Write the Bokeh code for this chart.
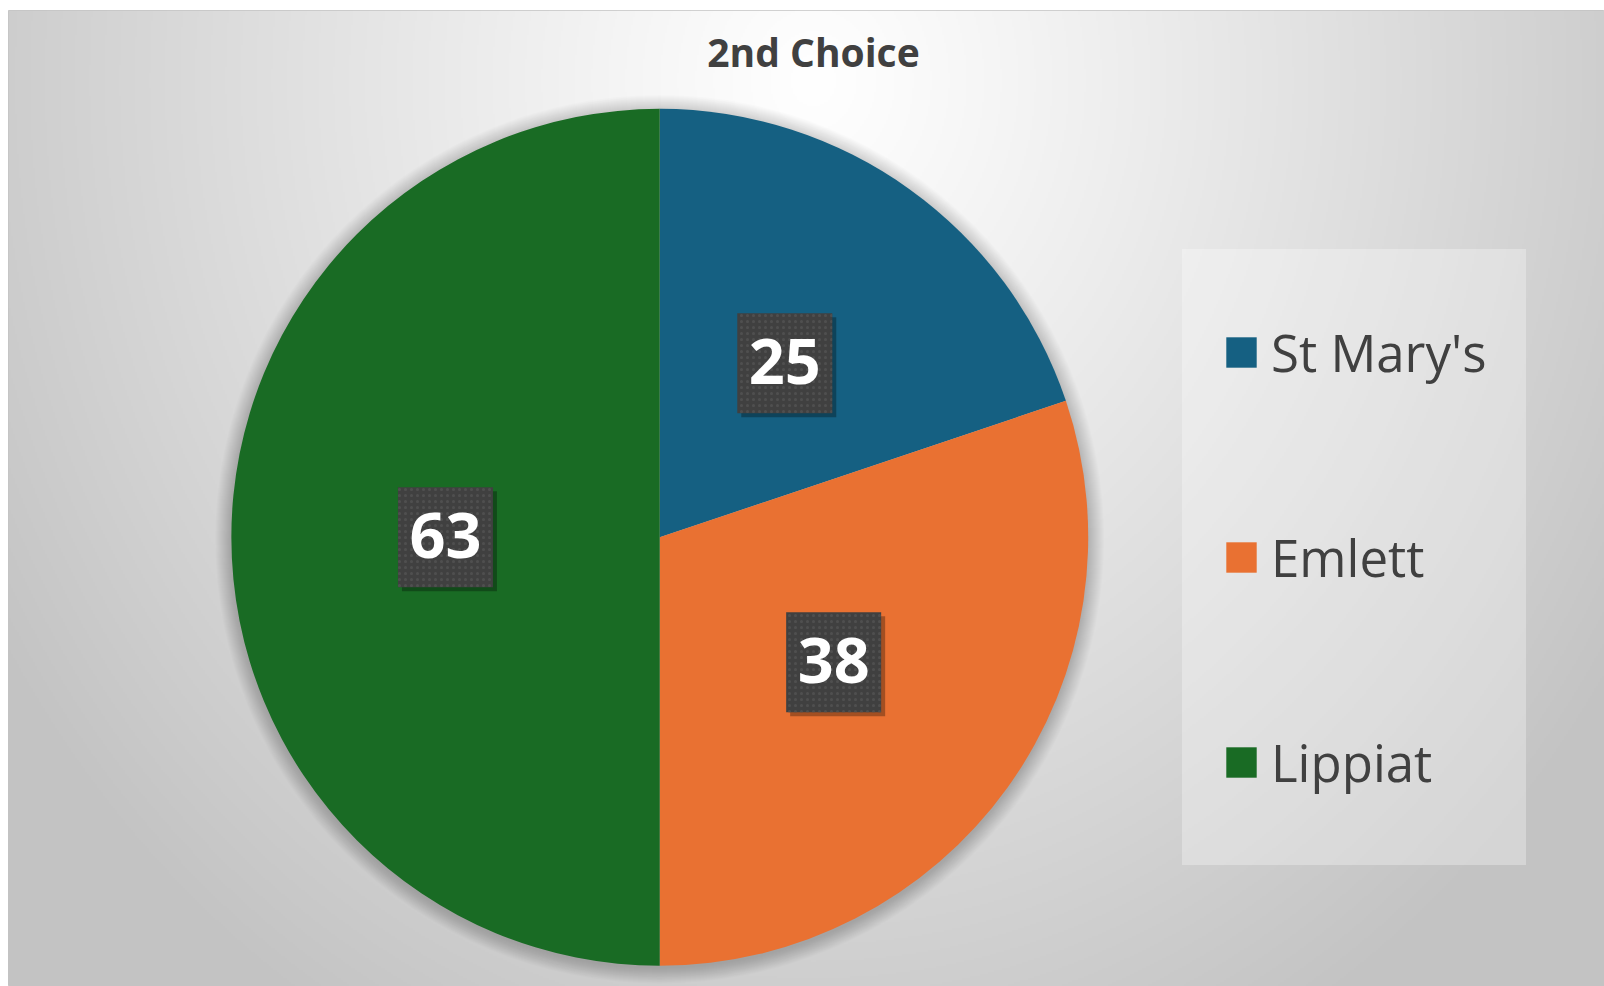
import numpy as np
from bokeh.plotting import figure
from bokeh.models import Range1d, ColumnDataSource, Legend, LegendItem
from bokeh.core.properties import value
from bokeh.transform import dodge
from bokeh.embed import file_html
from bokeh.resources import INLINE

# ---- data ----
title = "2nd Choice"
categories = ["St Mary's", "Emlett", "Lippiat"]
counts = [25, 38, 63]
colors = ["#156082", "#E97132", "#196B24"]

# ---- layout (frame pixel coordinates) ----
W, H = 1596, 976
cx, cy, R = 651.2, H - 526.8, 428.5

total = float(sum(counts))
frac = np.cumsum([0] + counts) / total * 2 * np.pi   # clockwise from 12 o'clock
start = np.pi / 2 - frac[:-1]
end = np.pi / 2 - frac[1:]
mid = (frac[:-1] + frac[1:]) / 2
lx = cx + 0.5 * R * np.sin(mid)
ly = cy + 0.5 * R * np.cos(mid)

src = ColumnDataSource(dict(cat=categories, val=counts, color=colors,
                            start=start, end=end, lx=lx, ly=ly,
                            txt=[str(v) for v in counts]))

p = figure(width=W + 8, height=H + 10, x_range=Range1d(0, W), y_range=Range1d(0, H),
           output_backend="svg", toolbar_location=None,
           min_border_left=8, min_border_top=10, min_border_right=0,
           min_border_bottom=0, x_axis_location=None, y_axis_location=None)
p.grid.visible = False
p.outline_line_color = "#c4c4c4"
p.background_fill_color = "#d8d8d8"
p.border_fill_color = "white"

# background radial gradient
hs, ws = H // 2, W // 2
yy, xx = np.mgrid[0:hs, 0:ws]
X = (xx + 0.5) * 2
Ytop = H - (yy + 0.5) * 2
t = np.sqrt(((X - 805) / 960.0) ** 2 + ((Ytop - 70) / 1100.0) ** 2)
g = (255 - 60 * np.clip(t, 0, 1) ** 1.1).astype(np.uint8)
img = np.empty((hs, ws), dtype=np.uint32)
view = img.view(dtype=np.uint8).reshape((hs, ws, 4))
view[:, :, 0] = g
view[:, :, 1] = g
view[:, :, 2] = g
view[:, :, 3] = 255
p.image_rgba(image=[img], x=0, y=0, dw=W, dh=H)

# soft shadow around pie
for k in range(1, 17):
    p.circle(x=cx, y=cy - 2, radius=R + k, fill_color="black", fill_alpha=0.012,
             line_color=None)

wedges = p.wedge(x=cx, y=cy, radius=R, start_angle="start", end_angle="end",
                 direction="clock", fill_color="color", line_color=None, source=src)

# data label boxes
p.rect(x=dodge("lx", 4), y=dodge("ly", -4), width=95, height=100, source=src,
       fill_color="black", fill_alpha=0.3, line_color=None)
p.rect(x="lx", y="ly", width=95, height=100, source=src, fill_color="#404040",
       line_color=None, hatch_pattern=".", hatch_color="#4f4f4f", hatch_scale=6,
       hatch_weight=1.5)
p.text(x="lx", y="ly", text="txt", source=src, text_align="center",
       text_baseline="alphabetic", y_offset=-2, text_color="white",
       text_font=value("Open Sans"), text_font_style="bold", text_font_size="63px")

# title
p.text(x=[805], y=[H - 57], text=[title], text_align="center",
       text_baseline="alphabetic", y_offset=-16, text_color="#404040",
       text_font=value("Open Sans"), text_font_style="bold", text_font_size="39px")

legend = Legend(items=[LegendItem(label=c, renderers=[wedges], index=i)
                       for i, c in enumerate(categories)],
                location=(1174, 121), orientation="vertical", padding=40,
                spacing=79, glyph_width=38, glyph_height=38, label_height=126,
                label_standoff=11, label_text_font="Open Sans",
                label_text_font_size="51px", label_text_color="#404040",
                background_fill_color="white", background_fill_alpha=0.3,
                border_line_alpha=0, margin=0)
p.add_layout(legend)

open("out.html", "w").write(file_html(p, INLINE))
